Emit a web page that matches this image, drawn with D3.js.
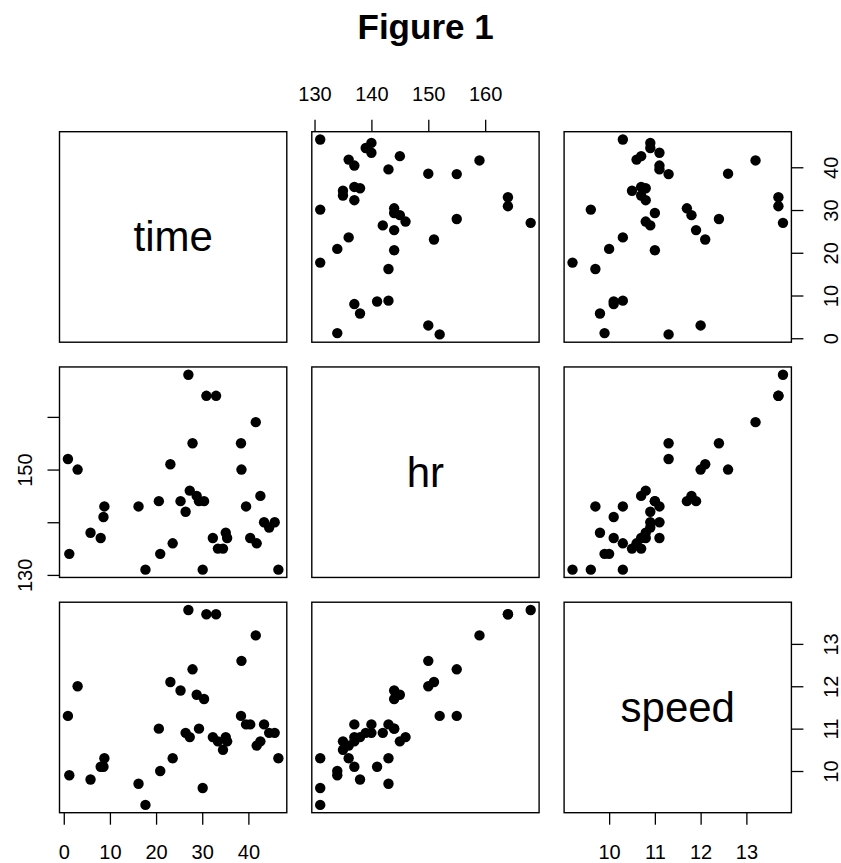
<!DOCTYPE html>
<html>
<head>
<meta charset="utf-8">
<script src="https://cdn.jsdelivr.net/npm/d3@7"></script>
<style>
  body { margin: 0; background: #fff; }
  svg { display: block; font-family: "Liberation Sans", Arial, sans-serif; }
</style>
</head>
<body>
<svg id="chart" width="841" height="863"></svg>
<script>
`use strict`;

// values, one entry per run
const time = [46.5, 45.7, 44.5, 43.4, 42.6, 41.8, 40.4, 41.6, 39.5, 38.5,
  38.4, 35.4, 35.1, 34.5, 33.4, 32.3, 33.0, 30.9, 30.1, 30.4,
  29.3, 28.8, 27.3, 27.9, 27.0, 26.4, 25.3, 23.6, 23.1, 20.9,
  20.6, 17.7, 16.2, 8.0, 5.8, 8.6, 8.8, 3.0, 0.9, 1.2];

const hr = [131, 140, 139, 140, 145, 136, 137, 159, 143, 150,
  155, 137, 138, 135, 135, 137, 164, 164, 131, 144,
  144, 145, 146, 155, 168, 142, 144, 136, 151, 134,
  144, 131, 143, 137, 138, 141, 143, 150, 152, 134];

const speed = [10.3, 10.9, 10.9, 11.1, 10.7, 10.6, 11.1, 13.2, 11.1, 12.6,
  11.3, 10.7, 10.8, 10.5, 10.7, 10.8, 13.7, 13.7, 9.6, 11.7,
  11.0, 11.8, 10.8, 12.4, 13.8, 10.9, 11.9, 10.3, 12.1, 10.0,
  11.0, 9.2, 9.7, 10.1, 9.8, 10.1, 10.3, 12.0, 11.3, 9.9];

const varNames = [`time`, `hr`, `speed`];

const timeTicks = [0, 10, 20, 30, 40];
const hrTicks = [130, 140, 150, 160];
const hrLeftLabels = [130, 150];
const speedTicks = [10, 11, 12, 13];

const cols = [time, hr, speed];
const rows = time.map((d, i) => ({time: time[i], hr: hr[i], speed: speed[i]}));

const svg = d3.select(`#chart`);

const x0 = 59.5, y0 = 131.7, pw = 227.3, ph = 210.5, gapX = 25, gapY = 24.75;
const tick = 12;

svg.append(`text`)
  .attr(`x`, 425.6)
  .attr(`y`, 39)
  .attr(`text-anchor`, `middle`)
  .style(`font-size`, `35px`)
  .style(`font-weight`, `bold`)
  .text(`Figure 1`);

// R pads each range by 4% on both ends
let pad = v => {
  let [lo, hi] = d3.extent(v), r = hi - lo;
  return [lo - 0.04 * r, hi + 0.04 * r];
};

const xScales = cols.map((v, j) => d3.scaleLinear().domain(pad(v))
  .range([x0 + j * (pw + gapX), x0 + j * (pw + gapX) + pw]));

const yScales = cols.map((v, i) => d3.scaleLinear().domain(pad(v))
  .range([y0 + i * (ph + gapY) + ph, y0 + i * (ph + gapY)]));

for (let i = 0; i < 3; i++) {
  for (let j = 0; j < 3; j++) {

    let g = svg.append(`g`);

    let px = x0 + j * (pw + gapX), py = y0 + i * (ph + gapY);

    if (i === j) {
      g.append(`text`)
        .attr(`x`, px + pw / 2)
        .attr(`y`, py + ph / 2)
        .attr(`text-anchor`, `middle`)
        .attr(`dominant-baseline`, `central`)
        .style(`font-size`, `42px`)
        .text(varNames[i]);
    } else {
      g.selectAll(`circle`).data(rows)
        .enter()
        .append(`circle`)
        .attr(`cx`, d => xScales[j](d[varNames[j]]))
        .attr(`cy`, d => yScales[i](d[varNames[i]]))
        .attr(`r`, 5.2)
        .attr(`fill`, `#000`);
    }

    g.append(`rect`)
      .attr(`x`, px)
      .attr(`y`, py)
      .attr(`width`, pw)
      .attr(`height`, ph)
      .attr(`fill`, `none`)
      .attr(`stroke`, `#000`)
      .attr(`stroke-width`, 1.4);
  }
}

let styleAxis = g => {
  g.select(`.domain`).remove();
  g.selectAll(`line`).attr(`stroke-width`, 1.3);
  g.selectAll(`text`).style(`font-size`, `20px`).attr(`fill`, `#000`);
};

const fmt = d3.format(`d`);

// top: hr
svg.append(`g`)
  .attr(`transform`, `translate(0,${y0})`)
  .call(d3.axisTop(xScales[1]).tickValues(hrTicks).tickSize(tick).tickPadding(19).tickFormat(fmt))
  .call(styleAxis);

// bottom: time and speed
[0, 2].forEach(j => {
  svg.append(`g`)
    .attr(`transform`, `translate(0,${y0 + 2 * (ph + gapY) + ph})`)
    .call(d3.axisBottom(xScales[j]).tickValues(j === 0 ? timeTicks : speedTicks)
      .tickSize(tick).tickPadding(20).tickFormat(fmt))
    .call(styleAxis);
});

// left: hr, only some labels fit
svg.append(`g`)
  .attr(`transform`, `translate(${x0},0)`)
  .call(d3.axisLeft(yScales[1]).tickValues(hrTicks).tickSize(tick)
    .tickFormat(d => hrLeftLabels.includes(d) ? fmt(d) : ``))
  .call(styleAxis)
  .call(g => g.selectAll(`text`)
    .attr(`x`, null).attr(`dy`, null)
    .attr(`text-anchor`, `middle`)
    .attr(`transform`, `translate(${31.5 - x0},0) rotate(-90)`));

// right: time and speed
[0, 2].forEach(i => {
  let xr = x0 + 2 * (pw + gapX) + pw;
  svg.append(`g`)
    .attr(`transform`, `translate(${xr},0)`)
    .call(d3.axisRight(yScales[i]).tickValues(i === 0 ? timeTicks : speedTicks).tickSize(tick).tickFormat(fmt))
    .call(styleAxis)
    .call(g => g.selectAll(`text`)
      .attr(`x`, null).attr(`dy`, null)
      .attr(`text-anchor`, `middle`)
      .attr(`transform`, `translate(${838 - xr},0) rotate(-90)`));
});
</script>
</body>
</html>
